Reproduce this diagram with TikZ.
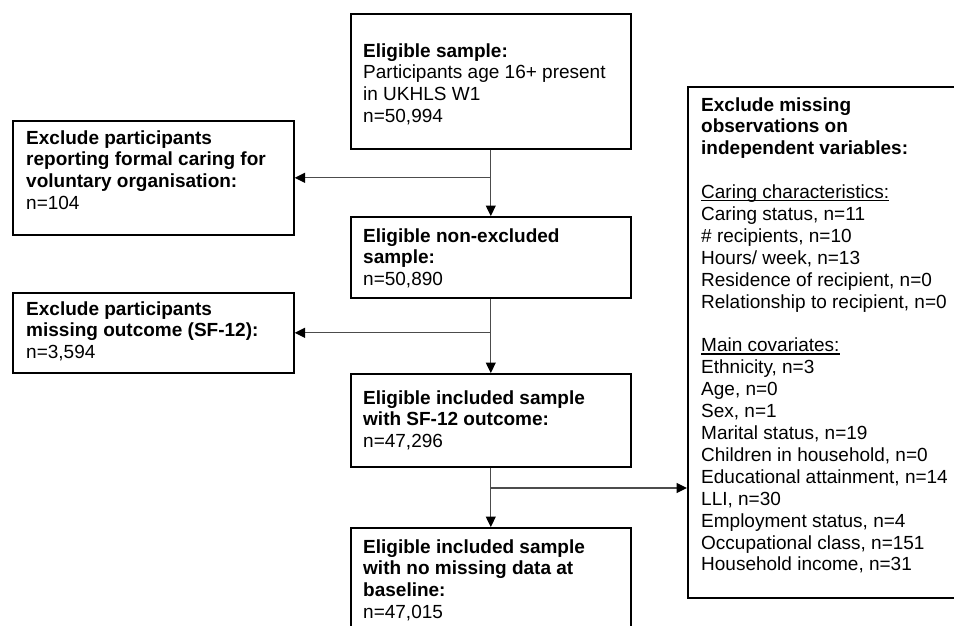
\documentclass[tikz,border=0pt]{standalone}
\usepackage{fontspec}
\setmainfont{Liberation Sans}
\usetikzlibrary{arrows.meta}
\newcommand\fctext[2]{\parbox[t]{#1}{\raggedright\fontsize{19}{21.9}\selectfont #2}}
\newsavebox\fculbox
\newcommand\fcul[1]{\leavevmode\sbox\fculbox{#1}\rlap{\rule[-2.6pt]{\wd\fculbox}{1.2pt}}\usebox\fculbox}
\tikzset{
  box/.style={draw=black, line width=1.6pt, inner sep=0pt, anchor=north west, fill=white},
  txt/.style={anchor=base west, inner sep=0pt},
  conn/.style={draw=black!70, line width=1.2pt},
  arr/.style={conn, -{Triangle[length=10.5pt,width=10pt,color=black]}},
}
\begin{document}
\begin{tikzpicture}[x=1pt,y=-1pt]
\useasboundingbox (0,0) rectangle (954,625);
\fill[white] (0,0) rectangle (954,625);
\clip (0,0) rectangle (954,625);

% boxes
\node[box, minimum width=280pt, minimum height=135pt] (A) at (350,13) {};
\node[box, minimum width=281pt, minimum height=114pt] (L1) at (12,120) {};
\node[box, minimum width=280pt, minimum height=81pt] (B) at (350,216) {};
\node[box, minimum width=281pt, minimum height=80pt] (L2) at (12,292) {};
\node[box, minimum width=280pt, minimum height=93pt] (C) at (350,373) {};
\node[box, minimum width=280pt, minimum height=125pt] (D) at (350,527) {};
\node[box, minimum width=310pt, minimum height=511pt] (R) at (687,86) {};

% texts
\node[txt] (At) at (363,57) {\fctext{265pt}{\textbf{Eligible sample:}\\Participants age 16+ present\\in UKHLS W1\\n=50,994}};
\node[txt] (L1t) at (26,144) {\fctext{265pt}{\textbf{Exclude participants\\reporting formal caring for\\voluntary organisation:}\\n=104}};
\node[txt] (Bt) at (363,242) {\fctext{265pt}{\textbf{Eligible non-excluded\\sample:}\\n=50,890}};
\node[txt] (L2t) at (26,315) {\fctext{265pt}{\textbf{Exclude participants\\missing outcome (SF-12):}\\n=3,594}};
\node[txt] (Ct) at (363,404) {\fctext{265pt}{\textbf{Eligible included sample\\with SF-12 outcome:}\\n=47,296}};
\node[txt] (Dt) at (363,553) {\fctext{265pt}{\textbf{Eligible included sample\\with no missing data at\\baseline:}\\n=47,015}};
\node[txt] (Rt) at (701,111) {\fctext{300pt}{\textbf{Exclude missing\\observations on\\independent variables:}\\\mbox{}\\
\fcul{Caring characteristics:}\\
Caring status, n=11\\
\# recipients, n=10\\
Hours/ week, n=13\\
Residence of recipient, n=0\\
Relationship to recipient, n=0\\\mbox{}\\
\fcul{Main covariates:}\\
Ethnicity, n=3\\
Age, n=0\\
Sex, n=1\\
Marital status, n=19\\
Children in household, n=0\\
Educational attainment, n=14\\
LLI, n=30\\
Employment status, n=4\\
Occupational class, n=151\\
Household income, n=31}};

% connectors
\draw[arr] (A.south) -- (B.north);
\draw[arr] (L1.east -| A.south) -- (L1.east);
\draw[arr] (B.south) -- (C.north);
\draw[arr] (L2.east -| B.south) -- (L2.east);
\draw[arr] (C.south) -- (D.north);
\coordinate (br3) at (490,488);
\draw[arr] (br3) -- (br3 -| R.west);
\end{tikzpicture}
\end{document}
